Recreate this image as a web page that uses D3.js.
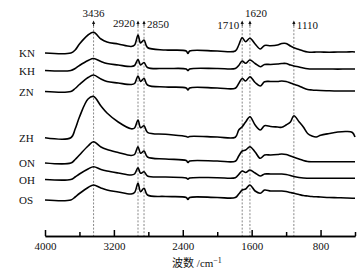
<!DOCTYPE html>
<html>
<head>
<meta charset="utf-8">
<script src="https://cdn.jsdelivr.net/npm/d3@7/dist/d3.min.js"></script>
<style>
  html, body { margin: 0; padding: 0; background: #fff; }
  svg text { font-family: "Liberation Serif", "Times New Roman", serif; fill: #111; }
</style>
</head>
<body>
<div id="chart"></div>
<script>
// wavenumber grid (cm-1) shared by all spectra
const wavenumbers = [4000, 3700, 3650, 3600, 3500, 3436, 3350, 3280, 3150, 3000, 2960, 2920, 2890, 2850, 2810,
  2600, 2360, 2340, 2320, 2000, 1790, 1750, 1710, 1670, 1620, 1560, 1500, 1450, 1380, 1300, 1250, 1200,
  1150, 1110, 1050, 1000, 950, 900, 850, 800, 700, 600, 500, 430, 400];

const sampleNames = ['KN', 'KH', 'ZN', 'ZH', 'ON', 'OH', 'OS'];
// vertical stacking offsets of each trace
const offsets = [187, 169.5, 148.5, 102.3, 77, 60.5, 40];

const KN = [0, 0, 3, 9, 18, 20.7, 14, 11, 9, 6.5, 8, 18, 10, 13, 5.5,
  3, 2, -0.5, 2, 2, 2, 8, 15.3, 11.3, 14.7, 9, 4, 7.5, 7.3, 8, 9.5, 9.5,
  7, 5.3, 3.5, 2, 1, 0.7, 1, 1, 0.8, 1, 1, 1.2, 1];
const KH = [0, 0, 2, 5, 10, 12, 9, 7, 5.5, 4, 5, 11, 5.5, 8, 3,
  2, 1.5, 0, 1.5, 2, 2, 5, 9.5, 7.2, 10.5, 7, 3.8, 6, 6, 6.5, 7, 7,
  5.5, 4.5, 3.5, 2.5, 1.8, 1.5, 1.5, 1.5, 1.5, 1.4, 1.5, 1.5, 1.5];
const ZN = [0, 0, 3, 7, 14, 16.5, 12.5, 10, 8.5, 7, 8, 15.5, 10, 13, 6.5,
  4.5, 3.5, 1.5, 3.5, 3.5, 3.3, 8, 13, 10.5, 14.8, 9, 5.5, 9.8, 10, 10, 10.5, 10,
  8.5, 7.2, 5.5, 3.5, 2, 1.5, 1.2, 1, 0.7, 0.5, 0.5, 0.5, 0.5];
const ZH = [0, 0, 8.7, 20.7, 38.7, 41.2, 31.7, 24.7, 15.7, 8.9, 9.7, 17.7, 10, 12, 5.4,
  3.4, 1.2, 0.5, 1.2, 0.7, 0.5, 7.7, 11, 15.7, 21, 12.7, 7.7, 12, 11.2, 10.7, 10.4, 12.7,
  15.7, 22, 16, 10.7, 4.2, 1.7, 0.7, 2.4, 4.2, 5.7, 6.2, 5.2, 0.7];
const ON = [0, 0, 3.5, 8, 17, 21.3, 16, 13.5, 10.5, 7.5, 8.5, 16.3, 9.7, 12, 6,
  4, 2.5, 0.5, 2, 2, 1.8, 7, 12, 13, 16.3, 11, 4.7, 8, 8, 8.5, 9, 8.5,
  7, 5.8, 4, 2.5, 1.5, 1.3, 1.3, 1.3, 1.3, 1.2, 1.3, 1.3, 1.3];
const OH = [0, 0, 2.5, 5.5, 10.5, 12.8, 10, 8.5, 6.5, 4.5, 5.5, 11.8, 6.2, 7.8, 3.5,
  2.5, 1.5, 0.3, 1.5, 1.8, 1.8, 5, 8.5, 7, 9.5, 6.5, 3.5, 5.5, 5.5, 5.5, 5.5, 5,
  4, 3, 2, 1.5, 1.3, 1.2, 1.2, 1.2, 1.2, 1.2, 1.2, 1.2, 1.2];
const OS = [0, 0, 3, 6.5, 12.5, 15, 12, 10, 8, 6, 7.5, 16.7, 8.3, 11.7, 5,
  3.5, 2.5, 0.5, 2.5, 2.5, 2.5, 6, 10, 11, 15, 9, 6.7, 10, 9, 9, 9, 8.5,
  7.5, 6.7, 5.5, 4.5, 4, 3.5, 3.2, 3, 2.5, 2.3, 2, 1.8, 1.7];
const spectra = [KN, KH, ZN, ZH, ON, OH, OS];

// marked absorption bands
const peakWavenumbers = [3436, 2920, 2850, 1710, 1620, 1110];

const majorTicks = [4000, 3200, 2400, 1600, 800];
const minorTicks = [3600, 2800, 2000, 1200, 400];

const width = 364, height = 272;
const axisY = 236;

const svg = d3.select('#chart').append('svg')
  .attr('width', width)
  .attr('height', height);

const x = d3.scaleLinear().domain([4000, 400]).range([45, 355]);
const y = d3.scaleLinear().domain([0, 230]).range([240, 10]);

// dashed guide lines for the peaks
const peakLabelPos = {
  3436: { dx: 0, y: 17, anchor: 'middle' },
  2920: { dx: -3, y: 27, anchor: 'end' },
  2850: { dx: 3, y: 28, anchor: 'start' },
  1710: { dx: -3, y: 29, anchor: 'end' },
  1620: { dx: 6, y: 17, anchor: 'middle' },
  1110: { dx: 3, y: 29, anchor: 'start' }
};

svg.append('g')
  .selectAll('line')
  .data(peakWavenumbers)
  .join('line')
  .attr('x1', d => x(d))
  .attr('x2', d => x(d))
  .attr('y1', 26)
  .attr('y2', axisY)
  .attr('stroke', '#555')
  .attr('stroke-width', 0.7)
  .attr('stroke-dasharray', '2,1.6');

// little arrows on top of each guide
const arrows = svg.append('g');
arrows.selectAll('line')
  .data(peakWavenumbers)
  .join('line')
  .attr('x1', d => x(d))
  .attr('x2', d => x(d))
  .attr('y1', 22)
  .attr('y2', 26)
  .attr('stroke', '#111')
  .attr('stroke-width', 0.9);
arrows.selectAll('path')
  .data(peakWavenumbers)
  .join('path')
  .attr('d', d => {
    const px = x(d);
    return `M${px},20.5 L${px - 1.6},24 L${px + 1.6},24 Z`;
  })
  .attr('fill', '#111');

svg.append('g')
  .selectAll('text')
  .data(peakWavenumbers)
  .join('text')
  .attr('x', d => x(d) + peakLabelPos[d].dx)
  .attr('y', d => peakLabelPos[d].y)
  .attr('text-anchor', d => peakLabelPos[d].anchor)
  .attr('font-size', 11)
  .text(d => d);

// spectra
const line = d3.line()
  .x((d, i) => x(wavenumbers[i]))
  .y(d => d)
  .curve(d3.curveCatmullRom.alpha(0.5));

spectra.forEach((s, k) => {
  svg.append('path')
    .datum(s.map(v => y(v + offsets[k])))
    .attr('fill', 'none')
    .attr('stroke', '#000')
    .attr('stroke-width', 1.6)
    .attr('stroke-linejoin', 'round')
    .attr('d', line);
});

svg.append('g')
  .selectAll('text')
  .data(sampleNames)
  .join('text')
  .attr('x', 19)
  .attr('y', (d, i) => y(offsets[i]) + 4)
  .attr('font-size', 11)
  .text(d => d);

// x axis, ticks pointing up
const axisMajor = svg.append('g')
  .attr('transform', `translate(0,${axisY})`)
  .call(d3.axisBottom(x).tickValues(majorTicks).tickSize(-6).tickSizeOuter(0).tickPadding(6).tickFormat(d3.format('d')));
const axisMinor = svg.append('g')
  .attr('transform', `translate(0,${axisY})`)
  .call(d3.axisBottom(x).tickValues(minorTicks).tickSize(-4).tickSizeOuter(0).tickFormat(''));

[axisMajor, axisMinor].forEach(g => {
  g.selectAll('.domain').attr('stroke', '#000').attr('stroke-width', 1.5);
  g.selectAll('.tick line').attr('stroke', '#000').attr('stroke-width', 1.5);
  g.selectAll('.tick text')
    .attr('font-size', 11)
    .attr('font-family', '"Liberation Serif", "Times New Roman", serif')
    .attr('fill', '#111');
});

const xlabel = svg.append('text')
  .attr('x', 197)
  .attr('y', 267)
  .attr('text-anchor', 'middle')
  .attr('font-size', 11);
xlabel.append('tspan')
  .style('font-family', '"Noto Sans CJK SC", sans-serif')
  .text('波数');
xlabel.append('tspan').text(' /cm');
xlabel.append('tspan')
  .attr('dy', -4)
  .attr('font-size', 8)
  .text('−1');
</script>
</body>
</html>
